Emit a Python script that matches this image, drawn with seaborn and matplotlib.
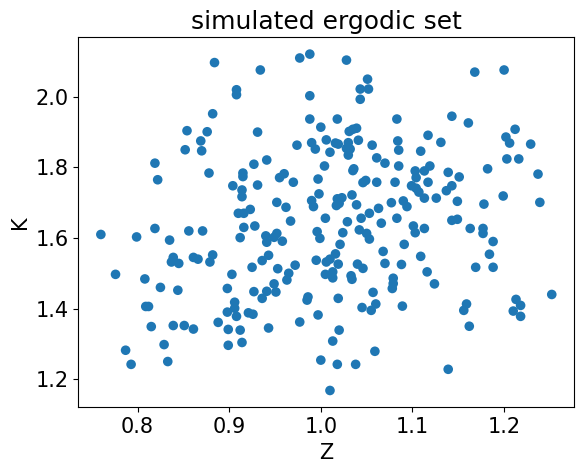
import numpy as np
import pandas as pd
import matplotlib
matplotlib.use("Agg")
import matplotlib.pyplot as plt
import seaborn as sns

# points (Z, K)
z_vals = [0.884, 0.908, 0.908, 0.882, 0.854, 0.876, 0.869, 0.852, 0.870, 0.819,
          0.822, 0.878, 0.904, 0.760, 0.799, 0.819, 0.835, 0.856, 0.871, 0.912,
          0.839, 0.837, 0.845, 0.861, 0.866, 0.882, 0.879, 0.776, 0.808, 0.825,
          0.844, 0.903, 0.898, 0.809, 0.812, 0.815, 0.839, 0.851, 0.861, 0.888,
          0.906, 0.906, 0.898, 0.908, 0.899, 0.912, 0.914, 0.899, 0.787, 0.793,
          0.829, 0.833, 0.940, 0.941, 0.952, 0.949, 0.958, 0.943, 0.936, 0.925,
          0.953, 0.972, 0.965, 0.963, 0.949, 0.951, 0.941, 0.936, 0.927, 0.921,
          0.926, 0.943, 0.977, 0.986, 0.985, 0.997, 0.995, 0.999, 0.996, 1.024,
          1.021, 1.006, 1.010, 1.016, 1.019, 1.005, 1.013, 1.013, 1.033, 1.034,
          1.019, 1.020, 1.013, 1.000, 1.018, 1.038, 1.010, 1.059, 1.040, 1.046,
          1.042, 1.050, 1.053, 1.057, 1.045, 1.055, 1.060, 1.068, 1.070, 1.079,
          1.079, 1.078, 1.088, 1.091, 1.089, 1.109, 1.116, 1.124, 1.188, 1.184,
          1.169, 1.188, 1.159, 1.156, 1.162, 1.139, 1.213, 1.218, 1.210, 1.218,
          1.252, 1.168, 1.200, 1.143, 1.161, 1.212, 1.202, 1.206, 1.229, 1.203,
          1.216, 1.237, 1.182, 1.199, 1.239, 1.178, 1.149, 1.117, 1.131, 1.109,
          1.119, 1.113, 1.103, 1.104, 1.139, 1.151, 1.117, 1.099, 1.104, 1.143,
          1.137, 1.107, 1.113, 1.126, 1.090, 1.094, 1.143, 1.149, 1.101, 1.103,
          1.113, 1.163, 1.177, 1.177, 1.083, 0.977, 0.988, 1.028, 0.934, 1.051,
          1.043, 1.052, 1.043, 0.988, 0.988, 1.018, 1.000, 0.931, 1.031, 1.035,
          1.039, 0.974, 0.990, 0.994, 1.006, 1.016, 1.019, 1.030, 1.028, 1.032,
          1.030, 1.010, 1.041, 1.056, 1.084, 1.085, 1.061, 1.070, 1.085, 1.004,
          0.941, 0.927, 0.915, 0.915, 0.914, 0.914, 0.931, 0.955, 0.960, 0.970,
          0.997, 1.035, 1.036, 1.046, 1.049, 1.061, 1.081, 0.952, 0.962, 0.990,
          0.992, 0.998, 1.018, 1.023, 1.017, 1.020, 1.034, 1.039, 1.053, 1.063,
          1.077, 1.083, 1.066, 1.044, 1.029, 1.005, 0.910, 0.916, 0.923, 0.916,
          0.928, 0.967]
k_vals = [2.097, 2.020, 2.006, 1.952, 1.904, 1.901, 1.875, 1.850, 1.847, 1.812,
          1.765, 1.784, 1.748, 1.610, 1.603, 1.627, 1.594, 1.620, 1.620, 1.601,
          1.545, 1.532, 1.528, 1.545, 1.540, 1.552, 1.532, 1.497, 1.484, 1.460,
          1.452, 1.497, 1.457, 1.406, 1.406, 1.349, 1.352, 1.352, 1.342, 1.361,
          1.418, 1.401, 1.390, 1.378, 1.341, 1.339, 1.304, 1.296, 1.282, 1.242,
          1.298, 1.250, 1.606, 1.588, 1.613, 1.602, 1.591, 1.551, 1.536, 1.517,
          1.513, 1.523, 1.500, 1.481, 1.470, 1.447, 1.449, 1.429, 1.448, 1.388,
          1.384, 1.345, 1.362, 1.433, 1.424, 1.382, 1.537, 1.599, 1.618, 1.615,
          1.582, 1.532, 1.540, 1.555, 1.526, 1.497, 1.504, 1.487, 1.493, 1.483,
          1.429, 1.339, 1.308, 1.254, 1.242, 1.242, 1.168, 1.279, 1.526, 1.514,
          1.623, 1.613, 1.597, 1.446, 1.403, 1.395, 1.413, 1.562, 1.528, 1.486,
          1.471, 1.457, 1.525, 1.582, 1.407, 1.548, 1.504, 1.470, 1.590, 1.554,
          1.517, 1.517, 1.413, 1.395, 1.350, 1.228, 1.426, 1.409, 1.393, 1.378,
          1.440, 2.070, 2.076, 1.945, 1.926, 1.908, 1.886, 1.869, 1.866, 1.824,
          1.824, 1.781, 1.796, 1.719, 1.701, 1.696, 1.704, 1.891, 1.871, 1.846,
          1.804, 1.790, 1.790, 1.771, 1.786, 1.773, 1.758, 1.748, 1.741, 1.748,
          1.734, 1.730, 1.713, 1.713, 1.705, 1.689, 1.650, 1.653, 1.634, 1.615,
          1.627, 1.627, 1.627, 1.613, 1.937, 2.110, 2.121, 2.104, 2.076, 2.050,
          2.022, 2.022, 1.993, 2.003, 1.937, 1.937, 1.914, 1.900, 1.902, 1.908,
          1.911, 1.863, 1.870, 1.852, 1.878, 1.869, 1.866, 1.870, 1.854, 1.852,
          1.835, 1.843, 1.877, 1.863, 1.875, 1.849, 1.827, 1.812, 1.804, 1.804,
          1.821, 1.809, 1.784, 1.774, 1.736, 1.717, 1.750, 1.771, 1.782, 1.758,
          1.767, 1.791, 1.796, 1.757, 1.763, 1.758, 1.758, 1.701, 1.687, 1.706,
          1.689, 1.725, 1.711, 1.714, 1.692, 1.698, 1.722, 1.694, 1.670, 1.684,
          1.700, 1.656, 1.642, 1.656, 1.646, 1.656, 1.670, 1.670, 1.681, 1.630,
          1.634, 1.648]

df = pd.DataFrame({"Z": z_vals, "K": k_vals})

fig = plt.figure(figsize=(5.84, 4.72), dpi=100)
ax = fig.add_axes([0.1341, 0.1371, 0.8493, 0.7839])

sns.scatterplot(data=df, x="Z", y="K", ax=ax, s=48, color="#1f77b4",
                edgecolor="none", linewidth=0)

ax.set_title("simulated ergodic set", fontsize=18)
ax.set_xlabel("Z", fontsize=15)
ax.set_ylabel("K", fontsize=15)
ax.tick_params(labelsize=15)
ax.set_yticks([1.2, 1.4, 1.6, 1.8, 2.0])

fig.savefig("out.png", dpi=100)
